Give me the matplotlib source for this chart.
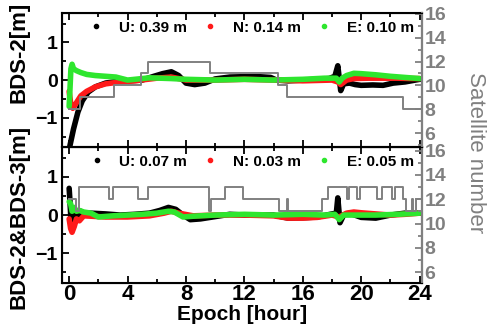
import matplotlib
matplotlib.use("Agg")
import matplotlib.pyplot as plt
from matplotlib.lines import Line2D
from matplotlib.ticker import MultipleLocator

plt.rcParams['font.family'] = ['Liberation Sans', 'DejaVu Sans']
plt.rcParams['font.weight'] = 'bold'
plt.rcParams['axes.labelweight'] = 'bold'

# ---- data ----
# top panel: BDS-2
top_u_t = [0.05, 0.3, 0.6, 0.9, 1.3, 1.8, 2.5, 3.2, 4.0, 5.0, 5.8, 6.4, 7.0, 7.5, 8.0, 8.6, 9.3,
           10.0, 11.0, 12.0, 13.0, 13.8, 14.2, 15.0, 16.0, 17.0, 17.8, 18.2, 18.4, 18.6, 18.8,
           19.2, 19.6, 20.0, 20.8, 21.5, 22.2, 23.0, 24.0]
top_u = [-1.75, -1.3, -0.85, -0.55, -0.32, -0.18, -0.08, -0.04, -0.02, 0.0, 0.1, 0.17, 0.22,
         0.12, -0.08, -0.12, -0.08, 0.03, 0.08, 0.09, 0.09, 0.07, 0.0, -0.02, 0.0, 0.02, 0.04,
         0.1, 0.38, -0.28, -0.1, -0.08, -0.12, -0.14, -0.13, -0.14, -0.08, -0.05, 0.02]

top_n_t = [0.0, 0.1, 0.25, 0.5, 0.8, 1.2, 1.8, 2.5, 3.5, 4.5, 6.0, 7.0, 8.0, 10.0, 12.0, 14.0,
           16.0, 18.0, 18.4, 18.6, 19.0, 19.5, 20.5, 21.5, 22.5, 23.5, 24.0]
top_n = [-0.3, -0.6, -0.75, -0.6, -0.42, -0.3, -0.18, -0.1, -0.05, -0.02, 0.05, 0.08, 0.0, 0.0,
         0.02, 0.0, -0.02, 0.0, -0.05, -0.12, 0.0, 0.04, 0.05, 0.05, 0.05, 0.04, 0.04]

top_e_t = [0.0, 0.05, 0.12, 0.2, 0.3, 0.5, 0.8, 1.2, 1.8, 2.5, 3.2, 4.0, 4.5, 5.5, 7.0, 8.0,
           10.0, 12.0, 14.0, 16.0, 17.5, 18.3, 18.5, 18.7, 19.0, 19.5, 20.0, 21.0, 22.0, 23.0, 24.0]
top_e = [-0.7, -0.3, 0.3, 0.42, 0.3, 0.25, 0.2, 0.15, 0.12, 0.1, 0.08, 0.0, 0.02, 0.06, 0.04,
         0.02, 0.0, 0.02, 0.0, 0.02, 0.05, 0.05, -0.05, 0.05, 0.12, 0.18, 0.17, 0.14, 0.1, 0.07, 0.04]

top_sat_t = [0, 0.75, 3.05, 4.9, 5.4, 9.65, 14.3, 14.9, 22.85, 24]
top_sat = [8, 9, 10, 11, 12, 11, 10, 9, 8, 8]

top_rms = ['U: 0.39 m', 'N: 0.14 m', 'E: 0.10 m']

# bottom panel: BDS-2&BDS-3
bot_u_t = [0.0, 0.05, 0.12, 0.2, 0.3, 0.45, 0.6, 0.8, 1.0, 1.5, 2.5, 3.5, 4.5, 5.5, 6.2, 6.8,
           7.3, 7.8, 8.3, 9.0, 10.0, 11.0, 12.0, 13.0, 14.0, 15.0, 16.0, 17.0, 18.0, 18.3,
           18.4, 18.55, 18.8, 19.2, 20.0, 21.0, 22.0, 23.0, 24.0]
bot_u = [0.7, 0.4, -0.1, -0.3, -0.15, 0.05, -0.05, 0.1, 0.05, 0.05, 0.03, 0.0, 0.02, 0.05,
         0.12, 0.2, 0.15, 0.0, -0.12, -0.1, -0.04, 0.02, 0.0, 0.0, 0.0, -0.08, -0.07, -0.05,
         0.03, 0.05, 0.45, -0.2, 0.0, 0.05, -0.06, -0.08, 0.0, 0.05, 0.05]

bot_n_t = [0.0, 0.1, 0.2, 0.35, 0.5, 0.7, 1.0, 1.5, 2.5, 4.0, 5.5, 6.5, 7.0, 7.5, 8.5, 10.0,
           12.0, 14.0, 15.0, 16.0, 17.0, 18.0, 18.5, 19.0, 19.5, 20.0, 21.0, 22.0, 23.0, 24.0]
bot_n = [-0.1, -0.35, -0.45, -0.3, -0.1, -0.15, -0.02, -0.03, -0.05, -0.05, -0.02, 0.05, 0.1,
         0.05, -0.02, 0.0, 0.0, -0.02, -0.08, -0.08, -0.06, 0.0, -0.05, 0.05, 0.08, 0.06, 0.03,
         0.0, 0.02, 0.05]

bot_e_t = [0.0, 0.1, 0.2, 0.35, 0.5, 0.7, 1.0, 1.5, 2.0, 3.0, 4.0, 5.0, 6.0, 6.8, 7.2, 7.8,
           8.5, 10.0, 12.0, 14.0, 16.0, 17.5, 18.2, 18.5, 18.8, 19.5, 21.0, 22.5, 24.0]
bot_e = [0.35, 0.3, 0.1, 0.2, 0.1, 0.12, 0.08, 0.05, -0.05, -0.02, 0.0, 0.02, 0.05, 0.1, 0.08,
         -0.05, -0.03, 0.0, 0.02, 0.0, 0.02, 0.0, 0.02, -0.12, 0.0, 0.0, 0.0, 0.02, 0.05]

bot_sat_t = [0, 0.45, 0.7, 2.7, 3.0, 4.7, 5.4, 9.6, 9.7, 10.7, 11.9, 14.35, 14.9, 15.0, 17.3,
             17.7, 19.0, 19.2, 19.7, 19.9, 21.1, 21.4, 22.1, 22.3, 22.85, 23.1, 23.5, 23.55,
             23.75, 24.0]
bot_sat = [12, 11, 13, 12, 13, 12, 13, 11, 12, 13, 12, 11, 12, 11, 12, 13, 12, 13, 12, 13, 12,
           13, 12, 13, 12, 11, 12, 11, 12, 12]

bot_rms = ['U: 0.07 m', 'N: 0.03 m', 'E: 0.05 m']

colors = ['black', '#ff1a1a', '#2ee62e']
gray = '#808080'

fig = plt.figure(figsize=(4.87, 3.35), dpi=100)
ax_top = fig.add_axes([0.127, 0.561, 0.739, 0.400])
ax_bot = fig.add_axes([0.127, 0.155, 0.739, 0.406])


def draw_panel(ax, series, sat_t, sat, labels, show_x, sat_lim):
    for (t, v), c in zip(series, colors):
        ax.plot(t, v, color=c, lw=4, solid_capstyle='round', solid_joinstyle='round')
    ax.set_xlim(-0.5, 24.15)
    ax.set_ylim(-1.78, 1.78)
    ax.xaxis.set_major_locator(MultipleLocator(4))
    ax.xaxis.set_minor_locator(MultipleLocator(2))
    ax.yaxis.set_major_locator(MultipleLocator(1))
    ax.yaxis.set_minor_locator(MultipleLocator(0.5))
    ax.tick_params(which='both', direction='in', top=True, width=1.3, labelsize=14, pad=3)
    ax.tick_params(which='major', length=5)
    ax.tick_params(which='minor', length=3)
    ax.tick_params(axis='x', labelsize=16, pad=1)
    if not show_x:
        ax.tick_params(axis='x', labelbottom=False)
    for s in ax.spines.values():
        s.set_linewidth(1.5)

    ax2 = ax.twinx()
    ax2.plot(sat_t, sat, color=gray, lw=1.4, drawstyle='steps-post')
    ax2.set_ylim(*sat_lim)
    ax2.yaxis.set_major_locator(MultipleLocator(2))
    ax2.yaxis.set_minor_locator(MultipleLocator(1))
    ax2.tick_params(which='both', direction='in', colors=gray, width=1.3, labelsize=14, pad=2)
    ax2.tick_params(which='major', length=5)
    ax2.tick_params(which='minor', length=3)
    ax2.spines['right'].set_color(gray)
    ax2.spines['right'].set_linewidth(1.5)

    handles = [Line2D([], [], ls='none', marker='o', ms=3, color=c) for c in colors]
    ax2.legend(handles, labels, loc='upper right', ncol=3, frameon=False,
               prop={'size': 11, 'weight': 'bold'}, handletextpad=0.5,
               columnspacing=0.5, borderaxespad=0.1, handlelength=2.0)


draw_panel(ax_top, [(top_u_t, top_u), (top_n_t, top_n), (top_e_t, top_e)],
           top_sat_t, top_sat, top_rms, False, (4.85, 16.05))
draw_panel(ax_bot, [(bot_u_t, bot_u), (bot_n_t, bot_n), (bot_e_t, bot_e)],
           bot_sat_t, bot_sat, bot_rms, True, (5.1, 16.3))

ax_bot.set_xlabel('Epoch [hour]', fontsize=15, labelpad=0)
fig.text(0.04, 1 - 52 / 335, 'BDS-2[m]', rotation=90, ha='center', va='center', fontsize=16)
fig.text(0.04, 1 - 217 / 335, 'BDS-2&BDS-3[m]', rotation=90, ha='center', va='center',
         fontsize=16)
fig.text(0.977, 1 - 153 / 335, 'Satellite number', rotation=270, ha='center', va='center',
         fontsize=16, color=gray, fontweight='normal')

fig.savefig('out.png', dpi=100)
